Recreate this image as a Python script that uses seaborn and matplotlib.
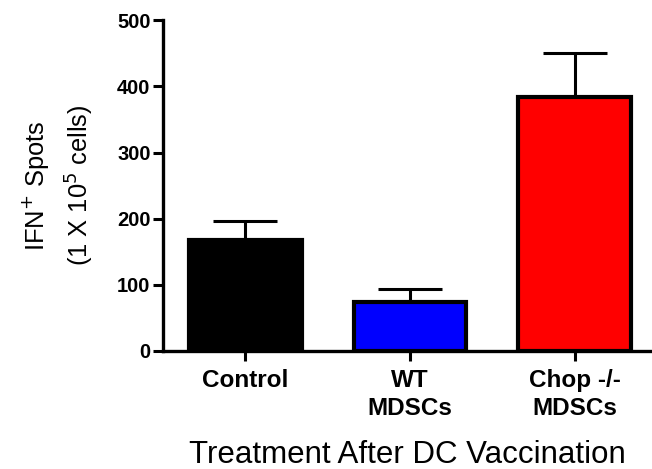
import matplotlib
matplotlib.use('Agg')
import matplotlib.pyplot as plt
import seaborn as sns
import pandas as pd

# Values
groups = ['Control', 'WT\nMDSCs', 'Chop -/-\nMDSCs']
spots = [168, 74, 384]
sem = [28, 19, 67]
bar_colors = ['#000000', '#0000ff', '#ff0000']
y_ticks = [0, 100, 200, 300, 400, 500]

sns.set_style('ticks', {'axes.edgecolor': 'black', 'text.color': 'black',
                        'axes.labelcolor': 'black', 'xtick.color': 'black',
                        'ytick.color': 'black'})
plt.rcParams['font.family'] = ['Liberation Sans', 'DejaVu Sans']

df = pd.DataFrame({'group': groups, 'spots': spots})

fig = plt.figure(figsize=(6.52, 4.69), dpi=100)
ax = fig.add_axes([0.25, 0.2516, 0.75, 0.705])

sns.barplot(data=df, x='group', y='spots', hue='group', palette=bar_colors,
            saturation=1, edgecolor='black', linewidth=3, width=0.685,
            errorbar=None, legend=False, ax=ax, zorder=3)

# upper-only error bars
ax.errorbar(x=range(len(groups)), y=spots, yerr=[[0] * len(sem), sem],
            fmt='none', ecolor='black', elinewidth=2.2, capsize=23,
            capthick=2.2, zorder=2)

ax.set_ylim(0, 500)
ax.set_xlim(-0.5, 2.47)
ax.set_yticks(y_ticks)
ax.set_yticklabels([str(t) for t in y_ticks], fontweight='bold', fontsize=14.5)
ax.set_xticks(range(len(groups)))
ax.set_xticklabels(groups, fontweight='bold', fontsize=17.5, linespacing=1.3)

sns.despine(ax=ax)
ax.spines['left'].set_linewidth(2.4)
ax.spines['bottom'].set_linewidth(2.4)
ax.tick_params(axis='y', length=7, width=2.2, pad=2)
ax.tick_params(axis='x', length=7, width=2.2, pad=6)

ax.set_xlabel('Treatment After DC Vaccination', fontsize=22.5, labelpad=14)
ax.set_ylabel('IFN$^{+}$ Spots\n(1 X 10$^{5}$ cells)', fontsize=18.4,
              labelpad=16, linespacing=1.35)

fig.savefig('out.png', dpi=100)
